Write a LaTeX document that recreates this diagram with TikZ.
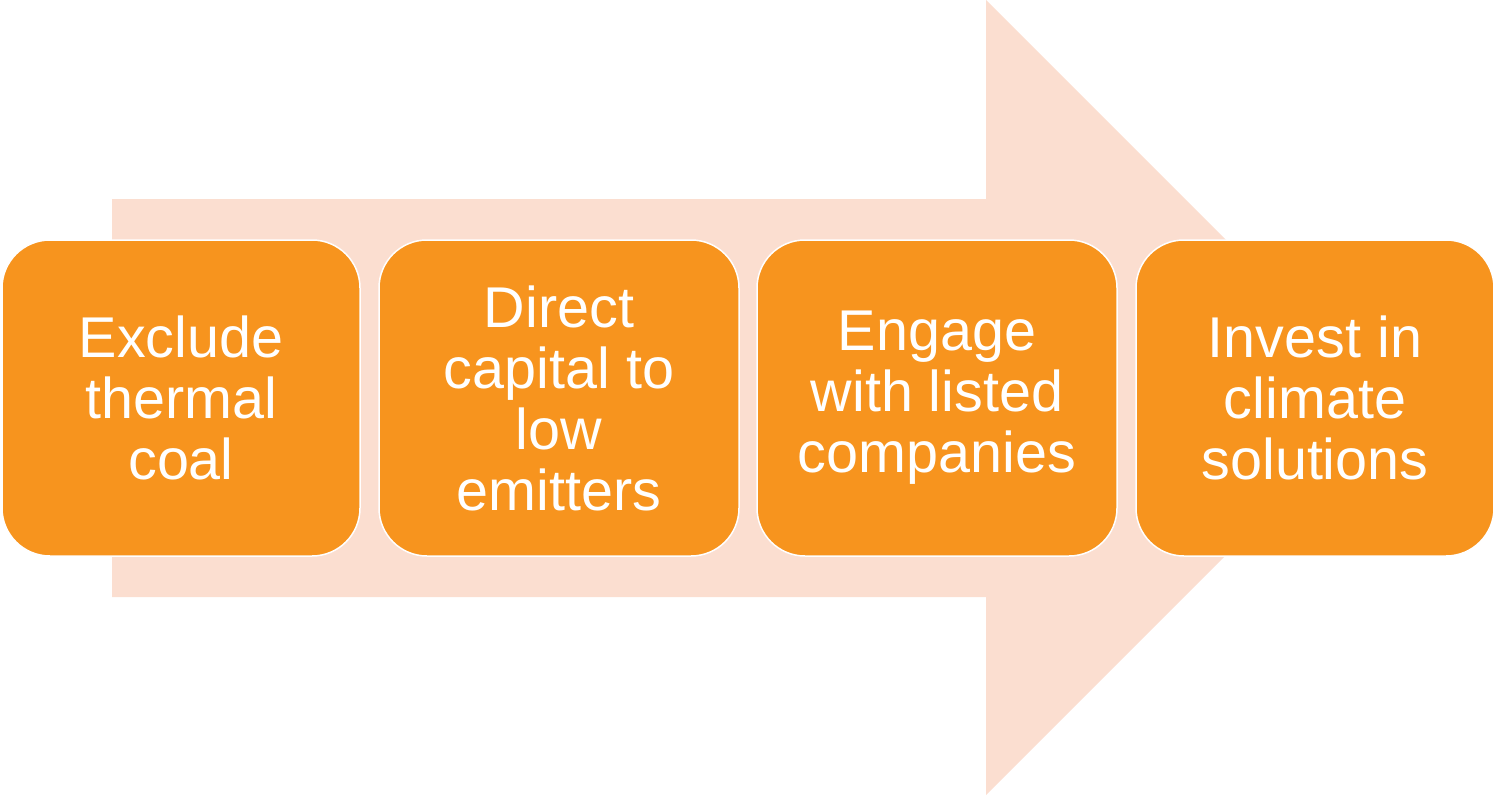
\documentclass[tikz,border=0pt]{standalone}
\usepackage{fontspec}
\setmainfont{Liberation Sans}
\definecolor{boxorange}{RGB}{247,148,30}
\definecolor{arrowpeach}{RGB}{251,222,208}
\begin{document}
\begin{tikzpicture}[x=1pt,y=-1pt,
  stepbox/.style={rectangle, rounded corners=48pt, fill=boxorange, draw=white,
    line width=1.5pt, minimum height=316pt, inner sep=0pt,
    text=white, align=center, font=\fontsize{57.5}{61}\selectfont}]
\useasboundingbox (0,0) rectangle (1493,795);
\fill[arrowpeach] (112,199) -- (986,199) -- (986,0) -- (1383.5,397.5) -- (986,795) -- (986,597) -- (112,597) -- cycle;
\node[stepbox, minimum width=358pt] (s1) at (181,398) {Exclude\\thermal\\coal};
\node[stepbox, minimum width=360pt] (s2) at (559,398) {Direct\\capital to\\low\\emitters};
\node[stepbox, minimum width=360pt] (s3) at (937,398) {Engage\\with listed\\companies};
\node[stepbox, minimum width=358pt] (s4) at (1315,398) {Invest in\\climate\\solutions};
\end{tikzpicture}
\end{document}
